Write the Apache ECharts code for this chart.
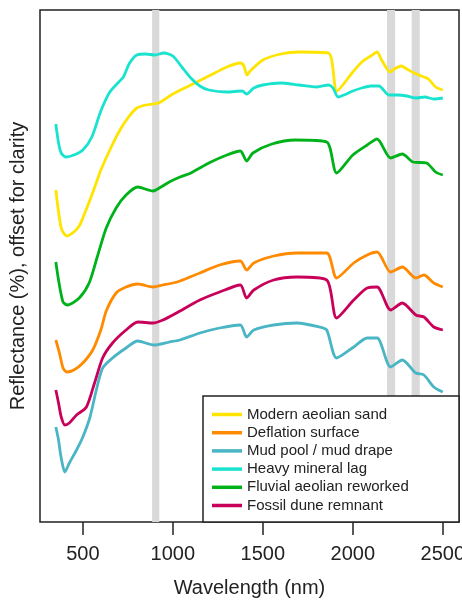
<!DOCTYPE html>
<html>
<head>
<meta charset="utf-8">
<script src="https://cdn.jsdelivr.net/npm/echarts@6/dist/echarts.min.js"></script>
<style>
  html, body { margin: 0; padding: 0; background: #fff; }
  #main { width: 462px; height: 602px; }
</style>
</head>
<body>
<div id="main"></div>
<script>
// wavelengths (nm) and offset reflectance (arbitrary offset units) per spectrum
var sandWl = [350, 380, 410, 450, 480, 500, 550, 580, 600, 650, 700, 750, 800, 850, 920, 1000, 1100, 1200, 1300, 1375, 1395, 1412, 1430, 1500, 1600, 1700, 1865, 1912, 2000, 2050, 2100, 2135, 2160, 2208, 2230, 2270, 2300, 2340, 2380, 2420, 2460, 2500];
var sandR  = [332, 294, 286, 290, 296, 304, 327, 342, 352, 372, 390, 404, 414, 417, 419, 428, 437, 446, 455, 459, 456, 447, 451, 462, 468, 470, 469, 431, 450, 460, 466, 470, 462, 450, 453, 456, 453, 449, 446, 443, 435, 432];

var deflWl = [350, 370, 390, 410, 450, 500, 555, 600, 630, 685, 740, 805, 890, 945, 1000, 1040, 1150, 1260, 1375, 1410, 1450, 1560, 1690, 1855, 1910, 2005, 2080, 2135, 2210, 2275, 2350, 2395, 2450, 2500];
var deflR  = [182, 169, 154, 150, 152, 159, 172, 192, 211, 229, 235, 238, 235, 237, 239, 241, 249, 257, 261, 252, 259, 266, 269, 269, 244, 259, 267, 270, 250, 255, 244, 247, 239, 235];

var mudWl = [350, 365, 375, 390, 400, 425, 465, 500, 540, 575, 610, 665, 740, 805, 895, 980, 1040, 1150, 1260, 1375, 1410, 1450, 1560, 1690, 1815, 1855, 1910, 2005, 2080, 2135, 2210, 2275, 2350, 2395, 2450, 2500];
var mudR  = [95, 82, 69, 55, 50, 59, 72, 85, 105, 132, 154, 164, 174, 181, 177, 180, 182, 189, 194, 197, 185, 192, 197, 199, 195, 192, 164, 175, 184, 184, 155, 162, 149, 147, 135, 130];

var lagWl = [350, 365, 380, 405, 450, 500, 550, 600, 650, 700, 725, 760, 800, 850, 900, 950, 1000, 1050, 1100, 1150, 1200, 1300, 1385, 1410, 1450, 1500, 1600, 1700, 1800, 1865, 1890, 1918, 1950, 2000, 2050, 2100, 2145, 2200, 2250, 2300, 2350, 2400, 2450, 2500];
var lagR  = [398, 379, 369, 365, 367, 372, 385, 411, 430, 440, 445, 459, 467, 468, 467, 469, 466, 455, 444, 436, 432, 430, 431, 428, 434, 437, 439, 437, 435, 437, 434, 425, 427, 431, 434, 436, 436, 427, 427, 426, 424, 425, 423, 424];

var fluvWl = [350, 365, 390, 415, 480, 535, 580, 630, 685, 740, 805, 890, 925, 980, 1040, 1100, 1200, 1300, 1375, 1410, 1445, 1550, 1680, 1855, 1910, 2000, 2080, 2135, 2210, 2275, 2335, 2410, 2460, 2500];
var fluvR  = [260, 242, 220, 217, 224, 239, 265, 294, 314, 327, 335, 331, 334, 340, 345, 349, 359, 367, 371, 361, 369, 378, 382, 380, 349, 367, 377, 383, 364, 368, 360, 359, 350, 347];

var duneWl = [350, 365, 380, 400, 425, 465, 520, 565, 610, 665, 740, 805, 890, 945, 1030, 1150, 1260, 1375, 1410, 1450, 1560, 1690, 1855, 1910, 2005, 2080, 2135, 2210, 2275, 2350, 2395, 2450, 2500];
var duneR  = [132, 119, 105, 97, 99, 107, 115, 139, 164, 179, 192, 200, 199, 202, 210, 222, 230, 237, 224, 232, 242, 245, 242, 204, 222, 234, 235, 212, 219, 207, 205, 195, 192];

var names = ['Modern aeolian sand', 'Deflation surface', 'Mud pool / mud drape',
             'Heavy mineral lag', 'Fluvial aeolian reworked', 'Fossil dune remnant'];
var colors = ['#ffe400', '#ff8a00', '#4ab5c4', '#19e3cf', '#00b21a', '#c8005a'];
var spectra = [[sandWl, sandR], [deflWl, deflR], [mudWl, mudR],
               [lagWl, lagR], [fluvWl, fluvR], [duneWl, duneR]];

// absorption bands (nm)
var bands = [[885, 925], [2190, 2235], [2327, 2372]];
var xTicks = [500, 1000, 1500, 2000, 2500];

function pairs(wl, r) {
    var out = [];
    for (var i = 0; i < wl.length; i++) out.push([wl[i], r[i]]);
    return out;
}

var myChart = echarts.init(document.getElementById('main'));
var font = 'Liberation Sans, Arial, sans-serif';

var series = [{
    type: 'line',
    data: [],
    z: 1,
    silent: true,
    markArea: {
        silent: true,
        itemStyle: { color: '#d9d9d9' },
        data: bands.map(function (b) { return [{ xAxis: b[0] }, { xAxis: b[1] }]; })
    }
}];

spectra.forEach(function (s, i) {
    series.push({
        name: names[i],
        type: 'line',
        data: pairs(s[0], s[1]),
        showSymbol: false,
        smooth: 0.25,
        z: 3,
        itemStyle: { color: colors[i] },
        lineStyle: { color: colors[i], width: 2.8 }
    });
});

option = {
    animation: false,
    backgroundColor: '#fff',
    textStyle: { fontFamily: font },
    grid: {
        left: 40, right: 3, top: 10, bottom: 80,
        outerBoundsMode: 'none',
        containLabel: false,
        show: true,
        borderColor: '#222',
        borderWidth: 1.5
    },
    xAxis: {
        type: 'value',
        min: 262,
        max: 2590,
        name: 'Wavelength (nm)',
        nameLocation: 'middle',
        nameGap: 56,
        nameTextStyle: { fontSize: 20, color: '#222', fontFamily: font },
        axisLine: { show: false },
        splitLine: { show: false },
        axisTick: {
            show: true, length: 13, customValues: xTicks,
            lineStyle: { color: '#222', width: 1.5 }
        },
        axisLabel: {
            customValues: xTicks, fontSize: 20, color: '#222', margin: 22, fontFamily: font,
            formatter: function (v) { return String(v); }
        }
    },
    yAxis: {
        type: 'value',
        min: 0,
        max: 512,
        name: 'Reflectance (%), offset for clarity',
        nameLocation: 'middle',
        nameGap: 12,
        nameTextStyle: { fontSize: 20, color: '#222', fontFamily: font },
        axisLine: { show: false },
        axisTick: { show: false },
        axisLabel: { show: false },
        splitLine: { show: false }
    },
    legend: {
        data: names,
        orient: 'vertical',
        left: 207,
        top: 402,
        z: 10,
        icon: 'rect',
        itemWidth: 30,
        itemHeight: 3.5,
        itemGap: 3.2,
        textStyle: { fontSize: 15, color: '#222', lineHeight: 15, fontFamily: font }
    },
    graphic: [{
        type: 'rect',
        z: 5,
        shape: { x: 203, y: 396, width: 256, height: 126 },
        style: { fill: '#fff', stroke: '#222', lineWidth: 1.5 }
    }],
    series: series
};

myChart.setOption(option);
</script>
</body>
</html>
